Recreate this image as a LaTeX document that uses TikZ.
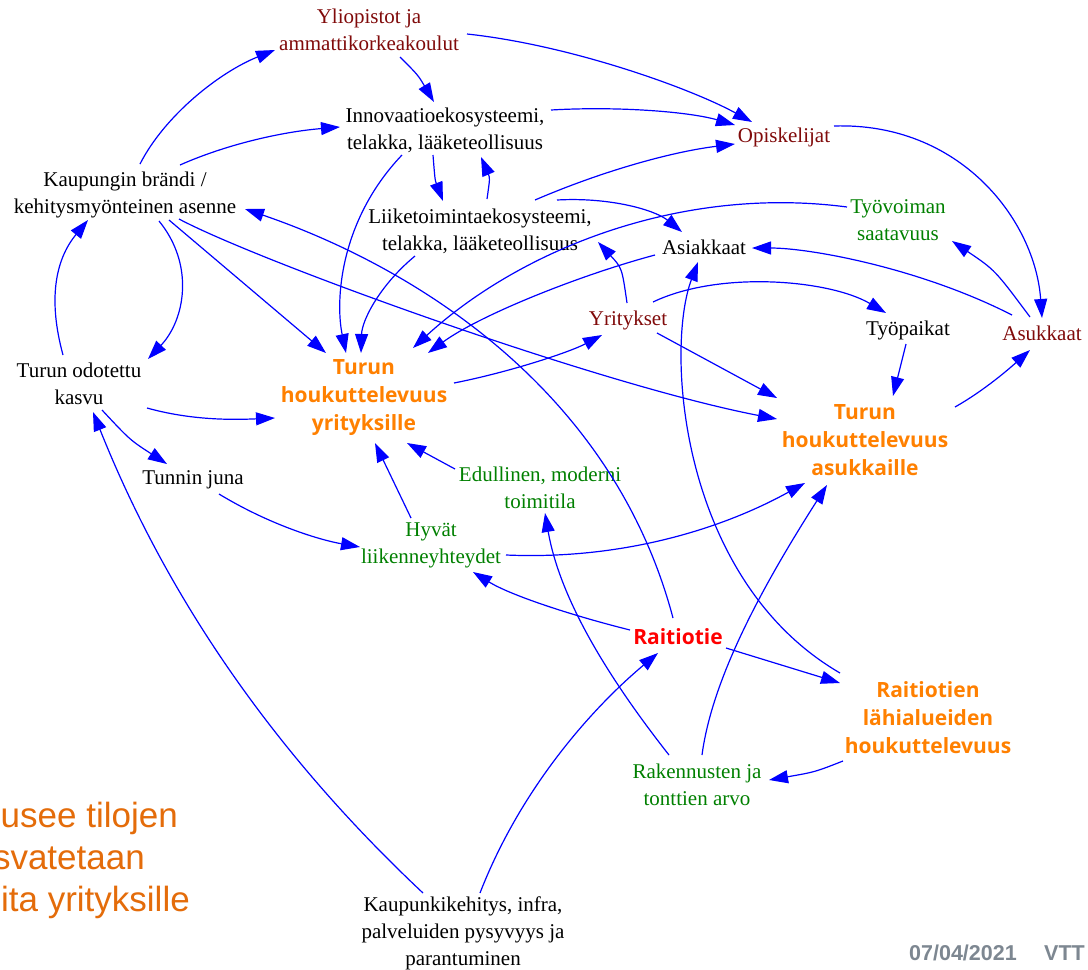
\documentclass[tikz,border=0pt]{standalone}
\usepackage{fontspec}
\setmainfont{Liberation Serif}
\newfontfamily\osans{Open Sans}
\newfontfamily\lsans{Liberation Sans}
\usetikzlibrary{arrows.meta}
\definecolor{lnblue}{RGB}{0,0,255}
\definecolor{dredc}{RGB}{128,10,10}
\definecolor{grnc}{RGB}{0,128,0}
\definecolor{orngc}{RGB}{255,128,0}
\definecolor{redc}{RGB}{255,0,0}
\definecolor{ltxt}{RGB}{228,108,10}
\definecolor{gryc}{RGB}{125,135,145}
\begin{document}
\begin{tikzpicture}[x=1pt,y=-1pt,
  base/.style={align=center,inner sep=2pt,font=\fontsize{21}{27}\selectfont},
  blk/.style={base,text=black},
  dred/.style={base,text=dredc},
  grn/.style={base,text=grnc},
  hot/.style={align=center,inner sep=2pt,text=orngc,font=\osans\bfseries\fontsize{21}{28}\selectfont},
  lefttxt/.style={inner sep=0pt,anchor=base east,text=ltxt,font=\lsans\fontsize{35}{42}\selectfont},
  datetxt/.style={inner sep=0pt,anchor=east,text=gryc,font=\lsans\bfseries\fontsize{21.5}{24}\selectfont},
  arr/.style={draw=lnblue,line width=1.2pt,-{Triangle[length=19pt,width=13pt]}}]
\fill[white] (0,0) rectangle (1088,970);
\useasboundingbox (0,0) rectangle (1088,970);

% nodes
\node[dred] (yliop) at (369,30) {Yliopistot ja\\ammattikorkeakoulut};
\node[blk] (innov) at (445,130) {Innovaatioekosysteemi,\\telakka, lääketeollisuus};
\node[dred] (opisk) at (784,137) {Opiskelijat};
\node[blk] (brandi) at (125,195) {Kaupungin brändi /\\kehitysmyönteinen asenne};
\node[blk] (liike) at (480,231) {Liiketoimintaekosysteemi,\\telakka, lääketeollisuus};
\node[grn] (tyov) at (898,220) {Työvoiman\\saatavuus};
\node[blk] (asiak) at (704,247) {Asiakkaat};
\node[dred] (yrit) at (628,320) {Yritykset};
\node[blk] (tyop) at (908,330) {Työpaikat};
\node[dred] (asuk) at (1042,333) {Asukkaat};
\node[blk] (kasvu) at (79,384) {Turun odotettu\\kasvu};
\node[hot] (hyr) at (364,398) {Turun\\houkuttelevuus\\yrityksille};
\node[hot] (has) at (865,440) {Turun\\houkuttelevuus\\asukkaille};
\node[blk] (juna) at (193,480) {Tunnin juna};
\node[grn] (edull) at (540,488) {Edullinen, moderni\\toimitila};
\node[grn] (hyvat) at (431,545) {Hyvät\\liikenneyhteydet};
\node[hot,text=redc] (raitio) at (678,637) {Raitiotie};
\node[hot] (rlah) at (928,718) {Raitiotien\\lähialueiden\\houkuttelevuus};
\node[grn] (rak) at (697,785) {Rakennusten ja\\tonttien arvo};
\node[blk] (kaup) at (463,933) {Kaupunkikehitys, infra,\\palveluiden pysyvyys ja\\parantuminen};

\node[lefttxt] (lt1) at (178,827) {usee tilojen};
\node[lefttxt] (lt2) at (145,869) {svatetaan};
\node[lefttxt] (lt3) at (190,911) {ita yrityksille};
\node[datetxt] (date) at (1017,953) {07/04/2021};
\node[datetxt] (vtt) at (1085,953) {VTT};

% connectors
\draw[arr] ([shift={(15,-31)}]brandi.center) .. controls (165,115) and (220,72) .. ([shift={(-94,20)}]yliop.center);
\draw[arr] ([shift={(55,-30)}]brandi.center) .. controls (225,145) and (280,132) .. ([shift={(-105,-3)}]innov.center);
\draw[arr] ([shift={(31,27)}]yliop.center) .. controls (418,75) .. ([shift={(-11,-28)}]innov.center);
\draw[arr] ([shift={(98,4)}]yliop.center) .. controls (570,45) and (690,88) .. ([shift={(-32,-15)}]opisk.center);
\draw[arr] ([shift={(106,-20)}]innov.center) .. controls (620,106) and (690,112) .. ([shift={(-49,-12)}]opisk.center);
\draw[arr] ([shift={(55,-31)}]liike.center) .. controls (600,172) and (670,152) .. ([shift={(-49,7)}]opisk.center);
\draw[arr] ([shift={(-12,25)}]innov.center) .. controls (435,180) .. ([shift={(-37,-30)}]liike.center);
\draw[arr] ([shift={(7,-32)}]liike.center) .. controls (490,178) .. ([shift={(36,27)}]innov.center);
\draw[arr] ([shift={(77,-31)}]liike.center) .. controls (610,197) and (655,210) .. ([shift={(-22,-15)}]asiak.center);
\draw[arr] ([shift={(50,-11)}]opisk.center) .. controls (960,122) and (1035,220) .. ([shift={(0,-15)}]asuk.center);
\draw[arr] ([shift={(-51,-13)}]tyov.center) .. controls (680,185) and (520,250) .. ([shift={(49,-50)}]hyr.center);
\draw[arr] ([shift={(-12,-16)}]asuk.center) .. controls (995,270) .. ([shift={(54,21)}]tyov.center);
\draw[arr] ([shift={(-30,-18)}]asuk.center) .. controls (920,268) and (810,248) .. ([shift={(48,1)}]asiak.center);
\draw[arr] ([shift={(-1,-17)}]yrit.center) .. controls (622,268) .. ([shift={(118,11)}]liike.center);
\draw[arr] ([shift={(25,-18)}]yrit.center) .. controls (720,270) and (830,280) .. ([shift={(-22,-17)}]tyop.center);
\draw[arr] ([shift={(-88,-45)}]rlah.center) .. controls (680,580) and (665,350) .. ([shift={(-6,15)}]asiak.center);
\draw[arr] ([shift={(29,13)}]yrit.center) -- ([shift={(-88,-42)}]has.center);
\draw[arr] ([shift={(-49,8)}]asiak.center) .. controls (580,275) and (480,315) .. ([shift={(64,-45)}]hyr.center);
\draw[arr] ([shift={(90,-15)}]hyr.center) .. controls (510,372) and (570,352) .. ([shift={(-26,15)}]yrit.center);
\draw[arr] ([shift={(54,24)}]brandi.center) .. controls (260,262) and (600,385) .. ([shift={(-88,-21)}]has.center);
\draw[arr] ([shift={(-5,-19)}]raitio.center) .. controls (610,380) and (400,262) .. ([shift={(120,14)}]brandi.center);
\draw[arr] ([shift={(34,26)}]brandi.center) .. controls (195,265) and (185,320) .. ([shift={(69,-25)}]kasvu.center);
\draw[arr] ([shift={(-16,-29)}]kasvu.center) .. controls (48,300) and (55,260) .. ([shift={(-37,25)}]brandi.center);
\draw[arr] ([shift={(-43,25)}]innov.center) .. controls (340,220) and (335,300) .. ([shift={(-18,-45)}]hyr.center);
\draw[arr] ([shift={(-65,25)}]liike.center) .. controls (380,285) and (362,320) .. ([shift={(-3,-45)}]hyr.center);
\draw[arr] ([shift={(44,25)}]brandi.center) -- ([shift={(-38,-45)}]hyr.center);
\draw[arr] ([shift={(68,24)}]kasvu.center) .. controls (190,420) and (230,420) .. ([shift={(-89,20)}]hyr.center);
\draw[arr] ([shift={(23,26)}]kasvu.center) .. controls (130,440) .. ([shift={(-26,-16)}]juna.center);
\draw[arr] ([shift={(26,14)}]juna.center) .. controls (270,525) and (320,540) .. ([shift={(-71,2)}]hyvat.center);
\draw[arr] ([shift={(-20,-27)}]hyvat.center) -- ([shift={(11,45)}]hyr.center);
\draw[arr] ([shift={(-85,-19)}]edull.center) -- ([shift={(43,45)}]hyr.center);
\draw[arr] ([shift={(75,10)}]hyvat.center) .. controls (620,560) and (720,530) .. ([shift={(-60,43)}]has.center);
\draw[arr] ([shift={(-48,-7)}]raitio.center) .. controls (570,615) and (510,595) .. ([shift={(42,27)}]hyvat.center);
\draw[arr] ([shift={(-28,-30)}]rak.center) .. controls (610,680) and (560,600) .. ([shift={(5,25)}]edull.center);
\draw[arr] ([shift={(5,-30)}]rak.center) .. controls (712,680) and (760,590) .. ([shift={(-38,45)}]has.center);
\draw[arr] ([shift={(17,-40)}]kaup.center) .. controls (520,790) and (590,710) .. ([shift={(-20,16)}]raitio.center);
\draw[arr] ([shift={(-40,-40)}]kaup.center) .. controls (260,740) and (160,580) .. ([shift={(14,28)}]kasvu.center);
\draw[arr] ([shift={(48,11)}]raitio.center) -- ([shift={(-88,-35)}]rlah.center);
\draw[arr] ([shift={(-85,43)}]rlah.center) .. controls (815,772) .. ([shift={(72,-5)}]rak.center);
\draw[arr] ([shift={(-2,14)}]tyop.center) -- ([shift={(28,-44)}]has.center);
\draw[arr] ([shift={(90,-33)}]has.center) .. controls (985,390) and (1010,368) .. ([shift={(-12,17)}]asuk.center);
\end{tikzpicture}
\end{document}
